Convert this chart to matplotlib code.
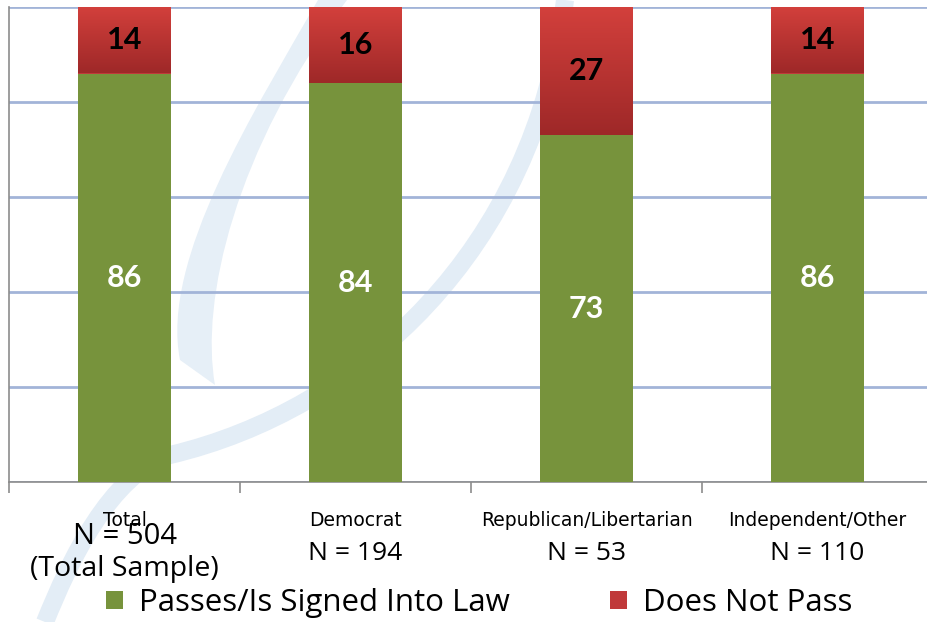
import matplotlib
matplotlib.use("Agg")
import matplotlib.pyplot as plt
import matplotlib.transforms as mtransforms
from matplotlib.colors import LinearSegmentedColormap
from matplotlib.patches import Patch, PathPatch
from matplotlib.path import Path
import numpy as np

categories = ["Total", "Democrat", "Republican/Libertarian", "Independent/Other"]
n_labels = ["N = 504\n(Total Sample)", "N = 194", "N = 53", "N = 110"]
passes = [86, 84, 73, 86]
not_pass = [14, 16, 27, 14]
series_names = ["Passes/Is Signed Into Law", "Does Not Pass"]

GREEN = "#77933C"
RED_TOP = "#D3403C"
RED_BOT = "#9E2828"
RED_MID = "#C0393A"
W, H = 927, 622

fig = plt.figure(figsize=(9.27, 6.22), dpi=100)

# faint decorative watermark (background only, figure pixel space)
def px(pts):
    return [(xx / W, 1 - yy / H) for xx, yy in pts]

cres = Path(px([(318, 0), (255, 110), (160, 260), (180, 360), (215, 385),
                (200, 300), (235, 150), (347, 0), (318, 0)]),
            [Path.MOVETO, Path.CURVE4, Path.CURVE4, Path.CURVE4, Path.LINETO,
             Path.CURVE4, Path.CURVE4, Path.CURVE4, Path.CLOSEPOLY])
fig.patches.append(PathPatch(cres, transform=fig.transFigure, facecolor="#E6EFF7",
                             edgecolor="none", zorder=-2))
band = Path(px([(565, 0), (535, 250), (360, 410), (170, 455),
                (110, 475), (70, 560), (45, 622)]),
            [Path.MOVETO, Path.CURVE4, Path.CURVE4, Path.CURVE4,
             Path.CURVE4, Path.CURVE4, Path.CURVE4])
fig.patches.append(PathPatch(band, transform=fig.transFigure, facecolor="none",
                             edgecolor="#E3EDF6", linewidth=13, capstyle="butt", zorder=-2))

ax = fig.add_axes([9 / W, (H - 482) / H, 924 / W, (482 - 7) / H])
ax.set_facecolor("none")
ax.set_zorder(1)

x = np.arange(len(categories))
w = 0.4
b1 = ax.bar(x, passes, width=w, color=GREEN, edgecolor="none", zorder=3)
b2 = ax.bar(x, not_pass, width=w, bottom=passes, color=RED_MID, edgecolor="none", zorder=3)

# gradient fill on red segments
cmap = LinearSegmentedColormap.from_list("redgrad", [RED_BOT, RED_TOP])
grad = np.linspace(0, 1, 256).reshape(-1, 1)
for p in b2:
    x0, y0 = p.get_x(), p.get_y()
    x1, y1 = x0 + p.get_width(), y0 + p.get_height()
    ax.imshow(grad, extent=[x0, x1, y0, y1], origin="lower", cmap=cmap,
              aspect="auto", zorder=3.5, interpolation="bicubic")

ax.set_xlim(-0.5, 3.5)
ax.set_ylim(0, 100)

# value labels
for i in range(len(categories)):
    ax.text(x[i], passes[i] / 2, str(passes[i]), ha="center", va="center",
            color="white", fontsize=22, fontweight="bold", family=["Lato", "DejaVu Sans"], zorder=5)
    ax.text(x[i], passes[i] + not_pass[i] / 2, str(not_pass[i]), ha="center", va="center",
            color="black", fontsize=22, fontweight="bold", family=["Lato", "DejaVu Sans"], zorder=5)

# grid
ax.set_yticks([0, 20, 40, 60, 80, 100])
ax.yaxis.grid(True, color="#A2B4D8", linewidth=2.0, zorder=0)
ax.tick_params(axis="y", left=False, labelleft=False)
ax.set_xticks(np.arange(-0.5, 3.6, 1.0))
ax.tick_params(axis="x", length=8, color="#8C8C8C", width=1.2, labelbottom=False)

for s in ["top", "right"]:
    ax.spines[s].set_visible(False)
for s in ["left", "bottom"]:
    ax.spines[s].set_color("#8C8C8C")
    ax.spines[s].set_linewidth(1.2)

trans = mtransforms.blended_transform_factory(ax.transData, fig.transFigure)
for i, c in enumerate(categories):
    ax.text(x[i], 1 - 520 / H, c, transform=trans, ha="center", va="center",
            fontsize=13.5, family=["DejaVu Sans"], color="black", zorder=6)
for i, n in enumerate(n_labels):
    if "\n" in n:
        first, second = n.split("\n")
        ax.text(x[i], 1 - 536 / H, first, transform=trans, ha="center", va="center",
                fontsize=21, family=["Open Sans", "DejaVu Sans"], color="black", zorder=6)
        ax.text(x[i], 1 - 569 / H, second, transform=trans, ha="center", va="center",
                fontsize=20.5, family=["Open Sans", "DejaVu Sans"], color="black", zorder=6)
    else:
        ax.text(x[i], 1 - 553 / H, n, transform=trans, ha="center", va="center",
                fontsize=19, family=["Open Sans", "DejaVu Sans"], color="black", zorder=6)

handles = [Patch(facecolor=GREEN, edgecolor="none"), Patch(facecolor=RED_MID, edgecolor="none")]
leg = fig.legend(handles, series_names, loc="center", bbox_to_anchor=(479 / W, 19 / H),
                 ncol=2, frameon=False, prop={"family": ["Open Sans", "DejaVu Sans"], "size": 22.5},
                 handlelength=0.55, handleheight=0.55, handletextpad=0.5, columnspacing=3.2,
                 borderpad=0, borderaxespad=0)
leg.set_zorder(5)

fig.savefig("out.png", dpi=100)
